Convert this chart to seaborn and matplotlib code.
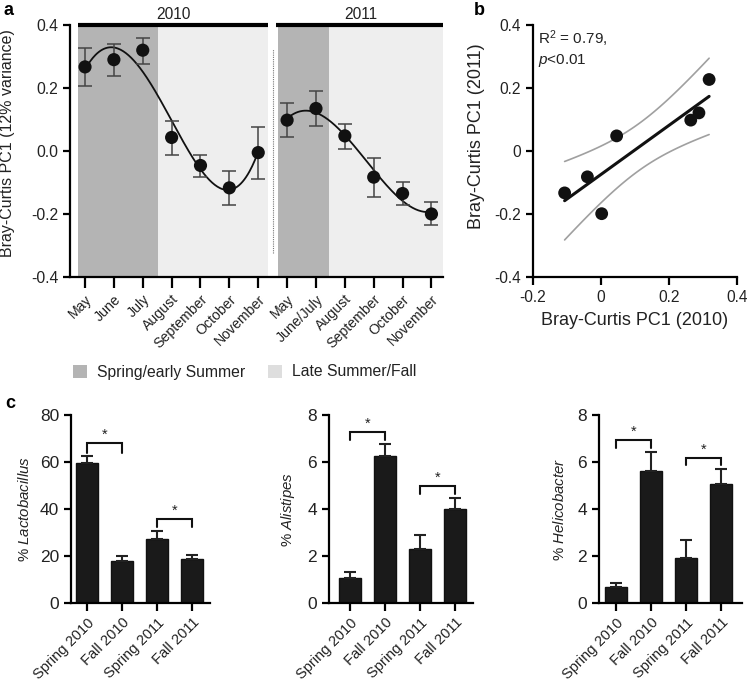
import numpy as np
import pandas as pd
import matplotlib
matplotlib.use('Agg')
import matplotlib.pyplot as plt
import seaborn as sns
from matplotlib.patches import Patch

# ---- panel a: monthly PC1 means (with error bar limits) ----
months_2010 = ['May', 'June', 'July', 'August', 'September', 'October', 'November']
months_2011 = ['May', 'June/July', 'August', 'September', 'October', 'November']
pc1_2010 = [0.267, 0.290, 0.320, 0.043, -0.046, -0.117, -0.005]
lo_2010 = [0.205, 0.237, 0.277, -0.013, -0.082, -0.171, -0.089]
hi_2010 = [0.327, 0.339, 0.359, 0.096, -0.013, -0.062, 0.077]
pc1_2011 = [0.098, 0.135, 0.048, -0.083, -0.135, -0.200]
lo_2011 = [0.043, 0.080, 0.007, -0.146, -0.173, -0.235]
hi_2011 = [0.153, 0.192, 0.087, -0.021, -0.098, -0.163]

# ---- panel b: 2010 vs 2011 PC1 ----
b_x2010 = [-0.107, -0.040, 0.002, 0.046, 0.264, 0.288, 0.318]
b_y2011 = [-0.133, -0.082, -0.199, 0.048, 0.098, 0.121, 0.227]

# ---- panel c: genus abundances ----
groups = ['Spring 2010', 'Fall 2010', 'Spring 2011', 'Fall 2011']
lacto = [59.5, 17.8, 27.3, 18.9]
lacto_err = [3.2, 2.0, 3.3, 1.6]
alist = [1.05, 6.25, 2.28, 4.02]
alist_err = [0.27, 0.53, 0.61, 0.43]
helico = [0.68, 5.6, 1.9, 5.08]
helico_err = [0.18, 0.83, 0.77, 0.61]

DARK = '#b4b4b4'
LIGHT = '#eeeeee'
INK = '#222222'

sns.set_style('ticks')
plt.rcParams['font.family'] = ['Liberation Sans', 'DejaVu Sans']
plt.rcParams['mathtext.fontset'] = 'custom'
plt.rcParams['mathtext.rm'] = 'Liberation Sans'
plt.rcParams['mathtext.it'] = 'Liberation Sans:italic'
plt.rcParams['font.size'] = 10
plt.rcParams['text.color'] = INK
plt.rcParams['axes.labelcolor'] = INK
plt.rcParams['xtick.color'] = 'black'
plt.rcParams['ytick.color'] = 'black'
plt.rcParams['xtick.labelcolor'] = INK
plt.rcParams['ytick.labelcolor'] = INK

W, H = 751, 687
fig = plt.figure(figsize=(W / 100, H / 100), dpi=100)


def rect(l, r, t, b):
    return [l / W, 1 - b / H, (r - l) / W, (b - t) / H]


def style_axes(ax, xsize=10.5, ysize=11):
    sns.despine(ax=ax)
    for s in ['left', 'bottom']:
        ax.spines[s].set_linewidth(1.6)
        ax.spines[s].set_color('black')
    ax.tick_params(width=1.6, length=5)
    ax.tick_params(axis='x', length=6, labelsize=xsize)
    ax.tick_params(axis='y', labelsize=ysize)


# ================= panel a =================
ax = fig.add_axes(rect(70, 443, 25, 277))
x10 = np.arange(len(months_2010))
x11 = np.arange(len(months_2011)) + len(months_2010)

ax.axvspan(-0.24, 2.53, color=DARK, lw=0, zorder=0)
ax.axvspan(2.53, 6.33, color=LIGHT, lw=0, zorder=0)
ax.axvspan(6.68, 8.44, color=DARK, lw=0, zorder=0)
ax.axvspan(8.44, 12.4, color=LIGHT, lw=0, zorder=0)
ax.plot([6.5, 6.5], [-0.325, 0.325], ls=(0, (1, 1)), color='#777777', lw=0.8)

# fitted curves
for xs, ys, deg in [(x10, pc1_2010, 4), (x11, pc1_2011, 3)]:
    coef = np.polyfit(xs, ys, deg)
    xf = np.linspace(xs[0], xs[-1], 200)
    ax.plot(xf, np.polyval(coef, xf), color='#111111', lw=1.3, zorder=3)

for xs, ys, lo, hi in [(x10, pc1_2010, lo_2010, hi_2010), (x11, pc1_2011, lo_2011, hi_2011)]:
    ys = np.array(ys)
    ax.errorbar(xs, ys, yerr=[ys - np.array(lo), np.array(hi) - ys], fmt='none',
                ecolor='#444444', elinewidth=1.1, capsize=5, capthick=1.1, zorder=4)
    sns.scatterplot(x=xs, y=ys, ax=ax, color='#111111', s=90, edgecolor='none', zorder=5)

ax.set_xlim(-0.52, 12.4)
ax.set_ylim(-0.4, 0.4)
ax.set_yticks([-0.4, -0.2, 0.0, 0.2, 0.4])
ax.set_yticklabels(['-0.4', '-0.2', '0.0', '0.2', '0.4'])
ax.set_xticks(np.concatenate([x10, x11]))
ax.set_xticklabels(months_2010 + months_2011, rotation=45, ha='right', rotation_mode='anchor')
style_axes(ax, xsize=10.2, ysize=11.3)
ax.tick_params(axis='x', length=8, pad=3)
ax.set_ylabel('Bray-Curtis PC1 (12% variance)', fontsize=11.5)
ax.yaxis.set_label_coords(-0.147, 0.53)

# year bars on top
ax.plot([-0.24, 6.33], [0.4, 0.4], color='black', lw=3, clip_on=False, solid_capstyle='butt')
ax.plot([6.62, 12.4], [0.4, 0.4], color='black', lw=3, clip_on=False, solid_capstyle='butt')
ax.text(3.05, 0.41, '2010', ha='center', va='bottom', fontsize=11.2)
ax.text(9.55, 0.41, '2011', ha='center', va='bottom', fontsize=11.2)

fig.legend(handles=[Patch(fc=DARK, ec='none'), Patch(fc='#dedede', ec='none')],
           labels=['Spring/early Summer', 'Late Summer/Fall'],
           loc='center left', bbox_to_anchor=(73 / W, 1 - 372 / H), ncol=2, frameon=False,
           handlelength=0.9, handleheight=0.9, handletextpad=0.65, columnspacing=1.4,
           fontsize=11.3, borderaxespad=0, borderpad=0)

# ================= panel b =================
axb = fig.add_axes(rect(533, 737, 25, 277))
bx = np.array(b_x2010)
by = np.array(b_y2011)
slope, icpt = np.polyfit(bx, by, 1)
n = len(bx)
resid = by - (slope * bx + icpt)
s_err = np.sqrt(np.sum(resid ** 2) / (n - 2))
t_crit = 2.571  # t(0.975, df=5)
xf = np.linspace(bx.min(), bx.max(), 100)
yf = slope * xf + icpt
half = t_crit * s_err * np.sqrt(1 / n + (xf - bx.mean()) ** 2 / np.sum((bx - bx.mean()) ** 2))
axb.plot(xf, yf + half, color='#a0a0a0', lw=1.2)
axb.plot(xf, yf - half, color='#a0a0a0', lw=1.2)
axb.plot(xf, yf, color='#111111', lw=2.2)
sns.scatterplot(x=bx, y=by, ax=axb, color='#111111', s=85, edgecolor='none', zorder=5)
axb.set_xlim(-0.2, 0.4)
axb.set_ylim(-0.4, 0.4)
axb.set_xticks([-0.2, 0, 0.2, 0.4])
axb.set_xticklabels(['-0.2', '0', '0.2', '0.4'])
axb.set_yticks([-0.4, -0.2, 0, 0.2, 0.4])
axb.set_yticklabels(['-0.4', '-0.2', '0', '0.2', '0.4'])
style_axes(axb, xsize=11.2, ysize=11.2)
axb.set_xlabel('Bray-Curtis PC1 (2010)', fontsize=13)
axb.set_ylabel('Bray-Curtis PC1 (2011)', fontsize=13)
axb.xaxis.set_label_coords(0.5, -0.14)
axb.yaxis.set_label_coords(-0.235, 0.56)
axb.text(-0.185, 0.355, 'R$^2$ = 0.79,', fontsize=11, va='center')
axb.text(-0.185, 0.288, '$\\mathit{p}$<0.01', fontsize=11, va='center')

# ================= panel c =================
c_specs = [
    (rect(71, 210, 415, 603), lacto, lacto_err, 'Lactobacillus', (0, 80), [0, 20, 40, 60, 80],
     (-0.46, 3.51), [(0, 1, 68, 64), (2, 3, 35.7, 32.5)]),
    (rect(329, 473, 415, 603), alist, alist_err, 'Alistipes', (0, 8), [0, 2, 4, 6, 8],
     (-0.6, 3.51), [(0, 1, 7.29, 6.94), (2, 3, 4.99, 4.65)]),
    (rect(599, 742, 415, 603), helico, helico_err, 'Helicobacter', (0, 8), [0, 2, 4, 6, 8],
     (-0.48, 3.6), [(0, 1, 6.94, 6.59), (2, 3, 6.19, 5.88)]),
]
ylab_x = [-0.28, -0.22, -0.224]

for i, (r, vals, errs, genus, ylim, yt, xlim, brackets) in enumerate(c_specs):
    axc = fig.add_axes(r)
    df = pd.DataFrame({'group': groups, 'value': vals})
    sns.barplot(data=df, x='group', y='value', color='#1a1a1a', width=0.63,
                errorbar=None, ax=axc, saturation=1, edgecolor='#111111')
    axc.errorbar(range(len(vals)), vals, yerr=[np.zeros(len(vals)), errs], fmt='none',
                 ecolor='#222222', elinewidth=1.5, capsize=4, capthick=1.5, zorder=3)
    axc.set_ylim(*ylim)
    axc.set_xlim(*xlim)
    axc.set_yticks(yt)
    axc.set_xticks(range(len(groups)))
    axc.set_xticklabels(groups, rotation=45, ha='right', rotation_mode='anchor')
    style_axes(axc, xsize=10.5, ysize=12.5)
    axc.tick_params(axis='x', length=6, pad=3)
    axc.set_xlabel('')
    axc.set_ylabel('% $\\mathit{' + genus + '}$', fontsize=10.8)
    axc.yaxis.set_label_coords(ylab_x[i], 0.5)
    span = ylim[1] - ylim[0]
    for x0, x1, yt_, yb in brackets:
        axc.plot([x0, x0, x1, x1], [yb, yt_, yt_, yb], color='#111111', lw=1.5,
                 clip_on=False, solid_joinstyle='miter')
        axc.text((x0 + x1) / 2, yt_ + 0.005 * span, '*', ha='center', va='bottom', fontsize=10.5)

# panel letters
fig.text(4 / W, 1 - 2 / H, 'a', fontsize=13, fontweight='bold', va='top', color='black')
fig.text(474 / W, 1 - 2 / H, 'b', fontsize=13, fontweight='bold', va='top', color='black')
fig.text(5 / W, 1 - 395 / H, 'c', fontsize=13, fontweight='bold', va='top', color='black')

fig.savefig('out.png', dpi=100)
